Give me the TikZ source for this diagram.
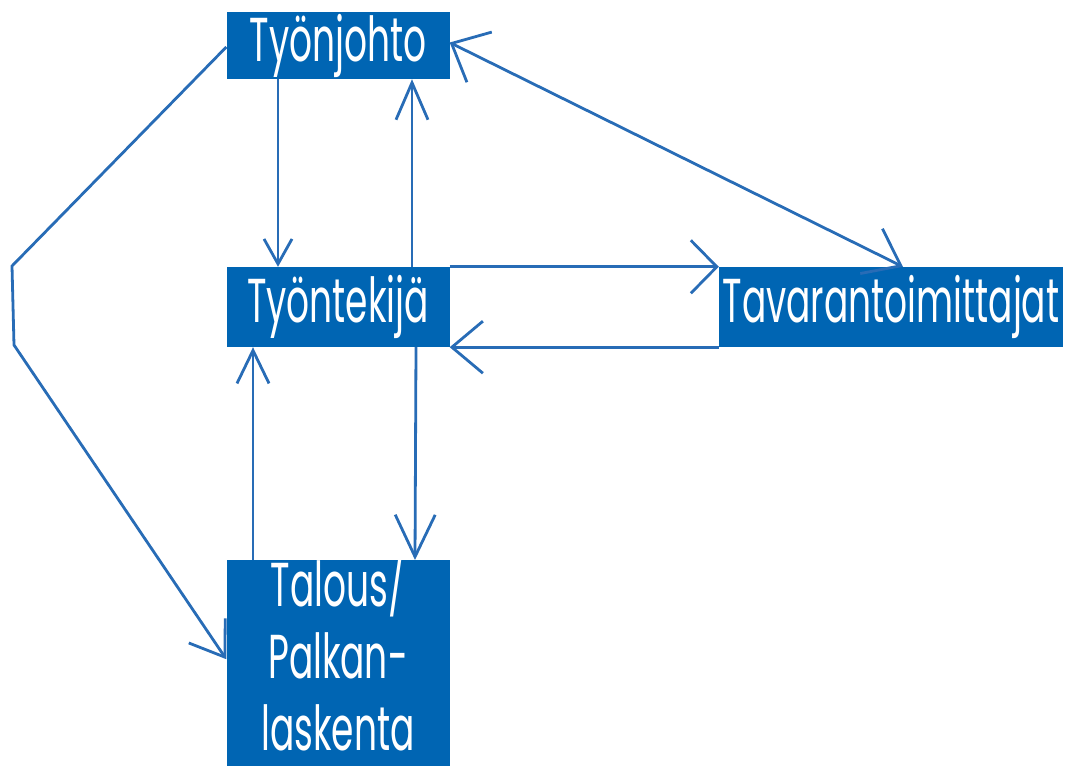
\documentclass[tikz,border=0pt]{standalone}
\usepackage{fontspec}
\setmainfont{Poppins}[FakeStretch=0.58]
\usetikzlibrary{arrows.meta,calc}
\definecolor{boxblue}{RGB}{0,101,179}
\definecolor{lineblue}{RGB}{40,108,182}
\begin{document}
\begin{tikzpicture}[x=1pt,y=-1pt,
  box/.style={fill=boxblue, text=white, inner sep=0pt, minimum width=223pt,
    font=\fontsize{62}{72}\selectfont},
  conn/.style={draw=lineblue, line width=2.8pt},
  barb/.style 2 args={-{Straight Barb[length=#1pt,width=#2pt]}}]
\useasboundingbox (0,0) rectangle (1066,766);
\node[box, minimum height=67pt] (tj) at (338,45.5) {Työnjohto};
\node[box, minimum height=80pt] (tt) at (338,307) {Työntekijä};
\node[box, minimum width=344pt, minimum height=80pt] (tv) at (891,307) {Tavarantoimittajat};
\node[box, anchor=north, align=center, text height=190pt, text depth=16pt] (tp) at (338,560) {Talous/\\Palkan-\\laskenta};
\draw[conn, barb={25}{28}] ([xshift=-60pt]tj.south) -- ([xshift=-60pt]tt.north);
\draw[conn, barb={37}{32}] ([xshift=74pt]tt.north) -- ([xshift=74pt]tj.south);
\draw[conn, barb={42}{40}] ([xshift=78pt]tt.south) -- ([xshift=77pt]tp.north);
\draw[conn, barb={33}{32}] ([xshift=-85pt]tp.north) -- ([xshift=-85pt]tt.south);
\draw[conn, barb={26}{53}] (tt.north east) -- (tv.north west);
\draw[conn, barb={31}{52}] (tv.south west) -- (tt.south east);
\draw[conn, {Straight Barb[length=31pt,width=56pt]}-{Straight Barb[length=33pt,width=50pt]}] ([yshift=3pt]tj.east) -- ([xshift=12pt]tv.north);
\coordinate (b1) at (12,266);
\coordinate (b2) at (14,345);
\draw[conn, barb={32}{44}] ([yshift=-1.5pt]tj.west) -- (b1) -- (b2) -- ([yshift=4pt]tp.west);
\end{tikzpicture}
\end{document}
